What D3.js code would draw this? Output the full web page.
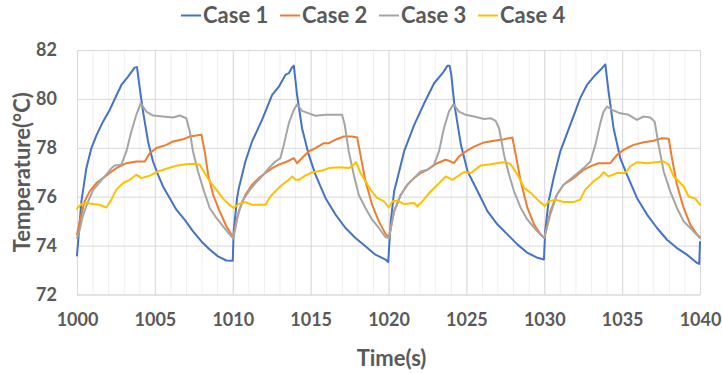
<!DOCTYPE html>
<html>
<head>
<meta charset="utf-8">
<script src="https://cdn.jsdelivr.net/npm/d3@7"></script>
<style>
  html, body { margin: 0; padding: 0; background: #fff; }
  svg text { font-family: Lato, "Open Sans", sans-serif; font-weight: bold; fill: #595959; }
</style>
</head>
<body>
<svg id="chart" width="722" height="374"></svg>
<script>
// ---- data (time in s, temperature in °C) ----
const seriesNames = ["Case 1", "Case 2", "Case 3", "Case 4"];
const xTicks = [1000, 1005, 1010, 1015, 1020, 1025, 1030, 1035, 1040];
const yTicks = [72, 74, 76, 78, 80, 82];

const case1 = [
  [1000, 73.6], [1000.28, 75.8], [1000.6, 77.16], [1000.92, 77.98], [1001.24, 78.5], [1001.67, 79.07],
  [1002.1, 79.55], [1002.5, 80.1], [1002.85, 80.57], [1003.27, 80.9], [1003.7, 81.28], [1003.85, 81.3],
  [1004.03, 80.44], [1004.24, 79.48], [1004.56, 78.26], [1004.88, 77.44], [1005.2, 76.9], [1005.52, 76.42],
  [1005.95, 75.95], [1006.38, 75.47], [1006.92, 75.05], [1007.45, 74.58], [1007.99, 74.17], [1008.52, 73.84],
  [1009.05, 73.56], [1009.59, 73.39], [1010.0, 73.38],
  [1010.06, 74.59], [1010.28, 75.95], [1010.39, 76.35], [1010.81, 77.44], [1011.24, 78.26], [1011.88, 79.14],
  [1012.53, 80.16], [1012.96, 80.5], [1013.38, 80.98], [1013.6, 81.05], [1013.81, 81.29], [1013.92, 81.36],
  [1014.13, 80.16], [1014.45, 78.8], [1014.88, 77.71], [1015.31, 76.9], [1015.95, 75.95], [1016.6, 75.27],
  [1017.24, 74.72], [1017.88, 74.31], [1018.52, 73.97], [1019.16, 73.63], [1019.81, 73.43], [1019.98, 73.33],
  [1020.15, 75.0], [1020.36, 76.22], [1020.58, 76.76], [1021.0, 77.85], [1021.65, 78.94], [1022.29, 79.82],
  [1022.93, 80.64], [1023.47, 81.05], [1023.79, 81.36], [1023.92, 81.36], [1024.03, 81.0], [1024.22, 79.82],
  [1024.65, 78.12], [1025.08, 77.03], [1025.72, 76.22], [1026.36, 75.4], [1027.0, 74.86], [1027.65, 74.45],
  [1028.29, 74.04], [1028.93, 73.7], [1029.57, 73.5], [1029.98, 73.43],
  [1030.06, 74.59], [1030.28, 75.81], [1030.6, 76.76], [1031.03, 77.85], [1031.67, 78.94], [1032.31, 80.03],
  [1032.74, 80.57], [1033.28, 80.98], [1033.6, 81.18], [1033.92, 81.41], [1034.13, 80.3], [1034.45, 78.8],
  [1034.88, 77.58], [1035.31, 76.9], [1035.95, 75.95], [1036.6, 75.27], [1037.24, 74.72], [1037.88, 74.24],
  [1038.52, 73.9], [1039.16, 73.63], [1039.81, 73.29], [1039.95, 73.25], [1040.0, 74.15]
];

const case2 = [
  [1000, 74.45], [1000.17, 74.99], [1000.49, 75.81], [1000.81, 76.22], [1001.24, 76.56], [1001.67, 76.76],
  [1002.1, 76.97], [1002.53, 77.17], [1003.17, 77.37], [1003.81, 77.44], [1004.35, 77.44], [1004.67, 77.78],
  [1005.1, 77.99], [1005.74, 78.12], [1006.17, 78.26], [1006.81, 78.35], [1007.24, 78.46], [1007.99, 78.53],
  [1008.2, 77.85], [1008.42, 76.9], [1008.74, 76.08], [1009.16, 75.4], [1009.59, 74.79], [1010.02, 74.34],
  [1010.39, 75.4], [1010.81, 76.08], [1011.24, 76.49], [1011.67, 76.76], [1012.1, 76.97], [1012.53, 77.17],
  [1012.96, 77.31], [1013.49, 77.44], [1013.92, 77.58], [1014.13, 77.37], [1014.45, 77.58], [1014.88, 77.85],
  [1015.31, 77.99], [1015.85, 78.19], [1016.17, 78.19], [1016.6, 78.33], [1017.13, 78.46], [1017.67, 78.46],
  [1017.99, 78.42], [1018.2, 77.71], [1018.52, 76.63], [1018.95, 75.67], [1019.38, 74.99], [1019.81, 74.48],
  [1020.02, 74.34],
  [1020.36, 75.4], [1020.79, 76.08], [1021.21, 76.49], [1021.64, 76.76], [1022.06, 76.97], [1022.49, 77.1],
  [1023.13, 77.37], [1023.66, 77.51], [1023.88, 77.47], [1024.2, 77.37], [1024.53, 77.65], [1024.96, 77.85],
  [1025.49, 78.05], [1026.13, 78.22], [1026.77, 78.29], [1027.42, 78.35], [1027.95, 78.42], [1028.17, 77.71],
  [1028.49, 76.63], [1028.92, 75.54], [1029.35, 74.86], [1029.77, 74.45], [1030.0, 74.31],
  [1030.39, 75.4], [1030.81, 76.08], [1031.24, 76.49], [1031.88, 76.76], [1032.53, 77.1], [1032.96, 77.24],
  [1033.49, 77.37], [1034.24, 77.37], [1034.67, 77.71], [1035.1, 77.92], [1035.74, 78.12], [1036.38, 78.23],
  [1037.02, 78.29], [1037.56, 78.39], [1037.99, 78.37], [1038.2, 77.58], [1038.52, 76.49], [1038.95, 75.54],
  [1039.38, 74.86], [1039.81, 74.45], [1040.0, 74.34]
];

const case3 = [
  [1000, 74.31], [1000.17, 74.64], [1000.39, 75.25], [1000.71, 75.8], [1001.03, 76.27], [1001.46, 76.6],
  [1001.88, 76.9], [1002.21, 77.16], [1002.42, 77.28], [1002.85, 77.31], [1003.17, 77.85], [1003.49, 78.67],
  [1003.81, 79.35], [1004.09, 79.82], [1004.45, 79.48], [1004.88, 79.32], [1005.52, 79.28], [1006.17, 79.24],
  [1006.6, 79.32], [1007.02, 79.21], [1007.24, 78.67], [1007.45, 77.85], [1007.77, 77.03], [1008.09, 76.35],
  [1008.52, 75.54], [1008.95, 75.13], [1009.38, 74.79], [1009.81, 74.45], [1010.04, 74.29],
  [1010.28, 75.13], [1010.6, 75.81], [1011.03, 76.22], [1011.46, 76.56], [1011.88, 76.83], [1012.31, 77.17],
  [1012.74, 77.44], [1013.06, 77.58], [1013.28, 78.12], [1013.6, 79.01], [1013.92, 79.55], [1014.13, 79.78],
  [1014.45, 79.51], [1014.88, 79.41], [1015.31, 79.31], [1015.95, 79.35], [1016.6, 79.35], [1017.02, 79.35],
  [1017.19, 78.94], [1017.45, 77.85], [1017.77, 76.9], [1018.09, 76.08], [1018.52, 75.54], [1018.95, 75.06],
  [1019.38, 74.72], [1019.81, 74.34], [1020.03, 74.31],
  [1020.36, 75.4], [1020.79, 76.08], [1021.21, 76.49], [1021.64, 76.76], [1022.06, 77.03], [1022.49, 77.1],
  [1022.92, 77.31], [1023.24, 77.85], [1023.56, 78.8], [1023.88, 79.48], [1024.17, 79.78], [1024.53, 79.48],
  [1024.96, 79.35], [1025.49, 79.28], [1026.13, 79.18], [1026.56, 79.21], [1026.88, 79.1], [1027.1, 78.8],
  [1027.42, 77.71], [1027.74, 76.9], [1028.06, 76.22], [1028.49, 75.54], [1028.92, 75.06], [1029.45, 74.65],
  [1030.0, 74.31],
  [1030.39, 75.27], [1030.81, 76.08], [1031.24, 76.49], [1031.88, 76.83], [1032.53, 77.17], [1032.96, 77.44],
  [1033.28, 78.12], [1033.6, 79.01], [1033.81, 79.48], [1034.03, 79.69], [1034.35, 79.55], [1034.88, 79.41],
  [1035.42, 79.35], [1035.95, 79.14], [1036.38, 79.28], [1036.81, 79.24], [1037.09, 79.07], [1037.34, 78.12],
  [1037.67, 77.03], [1038.09, 76.22], [1038.52, 75.54], [1038.95, 74.99], [1039.49, 74.65], [1040.0, 74.31]
];

const case4 = [
  [1000, 75.51], [1000.28, 75.7], [1000.6, 75.74], [1001.03, 75.7], [1001.46, 75.67], [1001.88, 75.56],
  [1002.21, 75.88], [1002.53, 76.29], [1002.96, 76.56], [1003.38, 76.69], [1003.81, 76.9], [1004.13, 76.76],
  [1004.67, 76.86], [1005.2, 77.03], [1005.74, 77.14], [1006.38, 77.27], [1007.02, 77.33], [1007.56, 77.35],
  [1007.88, 77.31], [1008.2, 76.97], [1008.52, 76.63], [1008.95, 76.29], [1009.38, 75.92], [1009.81, 75.65],
  [1010.06, 75.54],
  [1010.39, 75.7], [1010.81, 75.78], [1011.24, 75.67], [1011.67, 75.67], [1012.1, 75.67], [1012.42, 76.01],
  [1012.74, 76.22], [1013.17, 76.49], [1013.6, 76.69], [1013.81, 76.83], [1014.03, 76.69], [1014.24, 76.69],
  [1014.67, 76.87], [1015.1, 76.99], [1015.74, 77.07], [1016.17, 77.17], [1016.81, 77.2], [1017.45, 77.17],
  [1017.77, 77.31], [1017.92, 77.41], [1018.2, 76.97], [1018.52, 76.63], [1018.84, 76.29], [1019.27, 75.95],
  [1019.7, 75.81], [1020.02, 75.56],
  [1020.26, 75.81], [1020.58, 75.84], [1021.0, 75.7], [1021.65, 75.74], [1021.86, 75.61], [1022.18, 75.81],
  [1022.61, 76.15], [1023.15, 76.49], [1023.68, 76.83], [1024.11, 76.69], [1024.43, 76.83], [1024.86, 77.01],
  [1025.29, 76.97], [1025.93, 77.28], [1026.57, 77.33], [1027.22, 77.4], [1027.54, 77.41], [1027.86, 77.31],
  [1028.29, 76.9], [1028.72, 76.35], [1029.14, 76.15], [1029.57, 75.88], [1030.04, 75.61],
  [1030.28, 75.81], [1030.71, 75.88], [1031.24, 75.78], [1031.88, 75.78], [1032.31, 75.88], [1032.63, 76.29],
  [1033.17, 76.63], [1033.6, 76.83], [1033.81, 77.01], [1034.13, 76.83], [1034.67, 76.97], [1035.2, 76.97],
  [1035.52, 77.24], [1035.95, 77.41], [1036.6, 77.37], [1037.13, 77.41], [1037.67, 77.44], [1037.99, 77.31],
  [1038.31, 76.83], [1038.63, 76.63], [1038.95, 76.42], [1039.27, 76.01], [1039.7, 75.92], [1040.0, 75.67]
];

const seriesData = [case1, case2, case3, case4];
const colors = ["#4472C4", "#ED7D31", "#A5A5A5", "#FFC000"];

// ---- layout ----
const svg = d3.select("#chart");
const plot = { left: 77, right: 700, top: 50, bottom: 294.5 };

const x = d3.scaleLinear().domain([1000, 1040]).range([plot.left, plot.right]);
const y = d3.scaleLinear().domain([72, 82]).range([plot.bottom, plot.top]);

// minor vertical gridlines (every 1 s)
svg.append("g")
  .attr("transform", `translate(0,${plot.bottom})`)
  .call(d3.axisBottom(x).ticks(40).tickSize(-(plot.bottom - plot.top)).tickFormat(""))
  .call(g => g.select(".domain").remove())
  .call(g => g.selectAll("line").attr("stroke", "#efefef").attr("stroke-width", 1));

// major vertical gridlines (every 5 s)
svg.append("g")
  .attr("transform", `translate(0,${plot.bottom})`)
  .call(d3.axisBottom(x).tickValues(xTicks).tickSize(-(plot.bottom - plot.top)).tickFormat(""))
  .call(g => g.select(".domain").remove())
  .call(g => g.selectAll("line").attr("stroke", "#d9d9d9").attr("stroke-width", 1));

// horizontal gridlines
svg.append("g")
  .attr("transform", `translate(${plot.left},0)`)
  .call(d3.axisLeft(y).tickValues(yTicks).tickSize(-(plot.right - plot.left)).tickFormat(""))
  .call(g => g.select(".domain").remove())
  .call(g => g.selectAll("line").attr("stroke", "#d9d9d9").attr("stroke-width", 1));

// x axis labels
svg.append("g")
  .attr("transform", `translate(0,${plot.bottom})`)
  .call(d3.axisBottom(x).tickValues(xTicks).tickSize(0).tickPadding(19).tickFormat(d3.format("d")))
  .call(g => g.select(".domain").attr("stroke", "#d9d9d9"))
  .call(g => g.selectAll("text").style("font-size", "18px").attr("fill", "#595959"));

// y axis labels
svg.append("g")
  .attr("transform", `translate(${plot.left},0)`)
  .call(d3.axisLeft(y).tickValues(yTicks).tickSize(0).tickPadding(20).tickFormat(d3.format("d")))
  .call(g => g.select(".domain").attr("stroke", "#d9d9d9"))
  .call(g => g.selectAll("text").style("font-size", "18px").attr("fill", "#595959"));

// lines
const line = d3.line().x(d => x(d[0])).y(d => y(d[1]));
svg.append("g")
  .selectAll("path")
  .data(seriesData)
  .join("path")
  .attr("d", line)
  .attr("fill", "none")
  .attr("stroke", (d, i) => colors[i])
  .attr("stroke-width", 2)
  .attr("stroke-linejoin", "round")
  .attr("stroke-linecap", "round");

// axis titles
svg.append("text")
  .attr("x", (plot.left + plot.right) / 2 + 3)
  .attr("y", 366)
  .attr("text-anchor", "middle")
  .style("font-size", "22px")
  .text("Time(s)");

svg.append("text")
  .attr("transform", `translate(30,${(plot.top + plot.bottom) / 2}) rotate(-90)`)
  .attr("text-anchor", "middle")
  .style("font-size", "22px")
  .text("Temperature(°C)");

// legend
const legend = svg.append("g").attr("transform", "translate(181,0)");
const items = legend.selectAll("g")
  .data(seriesNames)
  .join("g")
  .attr("transform", (d, i) => `translate(${i * 99},0)`);
items.append("line")
  .attr("x1", 0).attr("x2", 20).attr("y1", 15.5).attr("y2", 15.5)
  .attr("stroke", (d, i) => colors[i]).attr("stroke-width", 2);
items.append("text")
  .attr("x", 22).attr("y", 23)
  .style("font-size", "22px")
  .text(d => d);
</script>
</body>
</html>
